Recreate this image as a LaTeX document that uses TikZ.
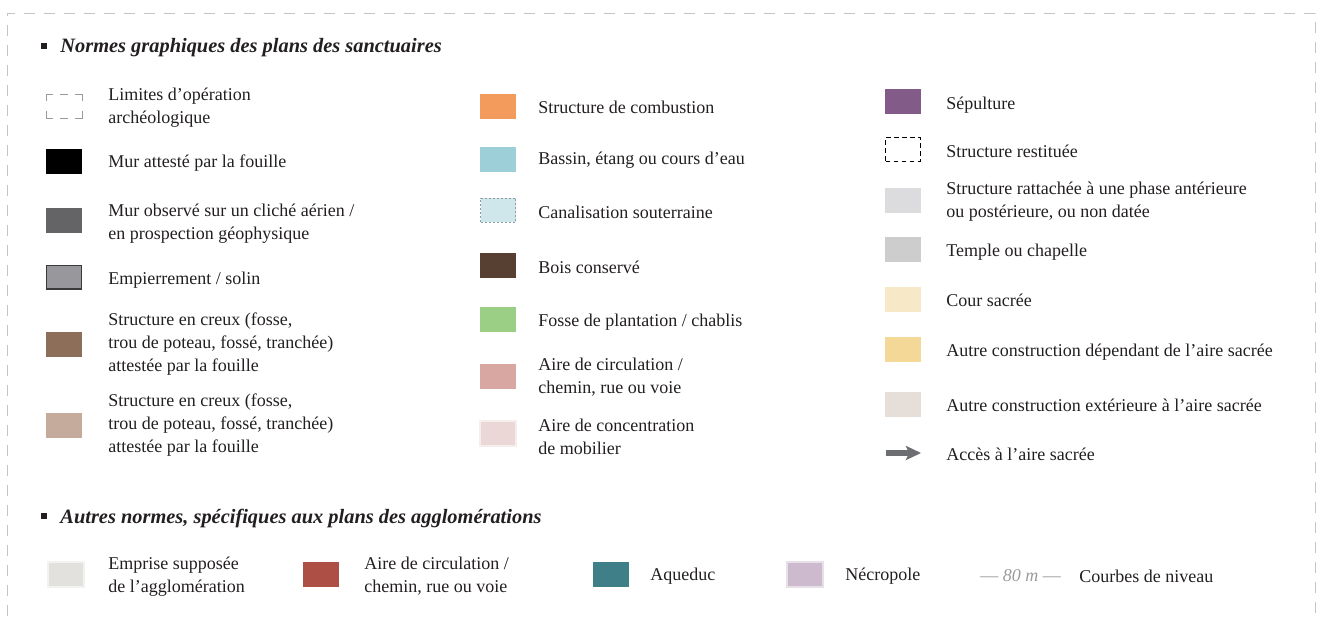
\documentclass[tikz,border=0pt]{standalone}
\usepackage{fontspec}
\setmainfont{Liberation Serif}
\usetikzlibrary{arrows.meta}
\definecolor{txt}{HTML}{231F20}
\definecolor{bordc}{HTML}{C4C4C4}
\definecolor{cMurObs}{HTML}{646466}
\definecolor{cEmp}{HTML}{98989C}
\definecolor{cEmpB}{HTML}{3A3A3A}
\definecolor{cCreuxA}{HTML}{8D6E58}
\definecolor{cCreuxB}{HTML}{C4AB9B}
\definecolor{cComb}{HTML}{F29B5C}
\definecolor{cBassin}{HTML}{9CCFD8}
\definecolor{cCanal}{HTML}{CFE6EB}
\definecolor{cCanalB}{HTML}{8A9EA5}
\definecolor{cBois}{HTML}{574032}
\definecolor{cFosse}{HTML}{9BCF86}
\definecolor{cCirc}{HTML}{D8A7A1}
\definecolor{cConc}{HTML}{EBD8D6}
\definecolor{cSep}{HTML}{835B88}
\definecolor{cRatt}{HTML}{DCDCDE}
\definecolor{cTemple}{HTML}{CDCDCE}
\definecolor{cCour}{HTML}{F7E8C7}
\definecolor{cDep}{HTML}{F3D897}
\definecolor{cExt}{HTML}{E6DED8}
\definecolor{cAcc}{HTML}{6D6E71}
\definecolor{cEmpr}{HTML}{E2E1DE}
\definecolor{cRed}{HTML}{AE4F46}
\definecolor{cAqu}{HTML}{3E7F88}
\definecolor{cNecro}{HTML}{CDBACF}
\definecolor{cLim}{HTML}{9A9A9A}
\definecolor{cCourbe}{HTML}{9B9B9B}
\begin{document}
\begin{tikzpicture}[x=0.5pt,y=-0.5pt,
  swatch/.style={minimum width=18pt,minimum height=12.5pt,inner sep=0pt,outer sep=0pt,draw=none},
  blurry/.style={swatch,fill=#1,draw=#1!45!white,line width=1pt},
  lbl/.style={anchor=west,inner sep=0pt,align=left,yshift=-1pt,font=\fontsize{9}{11.5}\selectfont,text=txt},
  head/.style={anchor=west,inner sep=0pt,yshift=-1pt,font=\fontsize{10.2}{12}\selectfont\bfseries\itshape,text=txt},
  bulletsq/.style={minimum size=2.6pt,inner sep=0pt,fill=txt},
  border/.style={draw=bordc,line width=0.5pt,dash pattern=on 5.5pt off 4.5pt},
  limline/.style={draw=cLim,line width=0.5pt},
  accarrow/.style={draw=cAcc,line width=2.6pt,-{Stealth[length=7.5pt,width=7pt,inset=1.5pt]}}
]
\useasboundingbox (0,0) rectangle (1323,616);
\draw[border] (7,616) -- (7,13) -- (1315,13) -- (1315,616);

% headings
\node[bulletsq] (b1) at (44,46) {};
\node[head] (h1) at (60,46) {Normes graphiques des plans des sanctuaires};
\node[bulletsq] (b2) at (44,516) {};
\node[head] (h2) at (60,516) {Autres normes, spécifiques aux plans des agglomérations};

% column 1
\draw[limline] (46,101) -- (46,94) -- (53,94);
\draw[limline] (60,94) -- (68,94);
\draw[limline] (75,94) -- (82,94) -- (82,101);
\draw[limline] (46,111) -- (46,118) -- (53,118);
\draw[limline] (60,118) -- (68,118);
\draw[limline] (75,118) -- (82,118) -- (82,111);
\node[lbl] (t11) at (108,106) {Limites d’opération\\archéologique};

\node[swatch,fill=black] (s12) at (64,161) {};
\node[lbl] (t12) at (108,161) {Mur attesté par la fouille};

\node[swatch,fill=cMurObs] (s13) at (64,220) {};
\node[lbl] (t13) at (108,221.5) {Mur observé sur un cliché aérien /\\en prospection géophysique};

\node[swatch,fill=cEmp,draw=cEmpB,line width=0.6pt,minimum width=17.4pt,minimum height=11.9pt] (s14) at (64,277) {};
\node[lbl] (t14) at (108,278) {Empierrement / solin};

\node[swatch,fill=cCreuxA] (s15) at (64,344) {};
\node[lbl] (t15) at (108,342) {Structure en creux (fosse,\\trou de poteau, fossé, tranchée)\\attestée par la fouille};

\node[swatch,fill=cCreuxB] (s16) at (64,425) {};
\node[lbl] (t16) at (108,423) {Structure en creux (fosse,\\trou de poteau, fossé, tranchée)\\attestée par la fouille};

% column 2
\node[swatch,fill=cComb] (s21) at (498,106.5) {};
\node[lbl] (t21) at (538,105.5) {Structure de combustion};

\node[swatch,fill=cBassin] (s22) at (498,159.5) {};
\node[lbl] (t22) at (538,158.5) {Bassin, étang ou cours d’eau};

\node[swatch,fill=cCanal,draw=cCanalB,line width=0.5pt,dash pattern=on 1pt off 1pt,minimum width=17.5pt,minimum height=12pt] (s23) at (498,210) {};
\node[lbl] (t23) at (538,210) {Canalisation souterraine};

\node[swatch,fill=cBois] (s24) at (498,265.5) {};
\node[lbl] (t24) at (538,265.5) {Bois conservé};

\node[swatch,fill=cFosse] (s25) at (498,319.5) {};
\node[lbl] (t25) at (538,320) {Fosse de plantation / chablis};

\node[swatch,fill=cCirc] (s26) at (498,376.5) {};
\node[lbl] (t26) at (538,375.5) {Aire de circulation /\\chemin, rue ou voie};

\node[blurry=cConc] (s27) at (498,433.5) {};
\node[lbl] (t27) at (538,435) {Aire de concentration\\de mobilier};

% column 3
\node[swatch,fill=cSep] (s31) at (903,101.5) {};
\node[lbl] (t31) at (946,103) {Sépulture};

\node[swatch,fill=white,draw=black,line width=0.6pt,dash pattern=on 2.4pt off 1.6pt,minimum width=17.4pt,minimum height=11.9pt] (s32) at (903,149.5) {};
\node[lbl] (t32) at (946,149.5) {Structure restituée};

\node[swatch,fill=cRatt] (s33) at (903,200.5) {};
\node[lbl] (t33) at (946,199.5) {Structure rattachée à une phase antérieure\\ou postérieure, ou non datée};

\node[swatch,fill=cTemple] (s34) at (903,249.5) {};
\node[lbl] (t34) at (946,250) {Temple ou chapelle};

\node[swatch,fill=cCour] (s35) at (903,299.5) {};
\node[lbl] (t35) at (946,298.5) {Cour sacrée};

\node[swatch,fill=cDep] (s36) at (903,349.5) {};
\node[lbl] (t36) at (946,350) {Autre construction dépendant de l’aire sacrée};

\node[swatch,fill=cExt] (s37) at (903,404.5) {};
\node[lbl] (t37) at (946,403.5) {Autre construction extérieure à l’aire sacrée};

\coordinate (acc0) at (886,453);
\coordinate (acc1) at (921,453);
\draw[accarrow] (acc0) -- (acc1);
\node[lbl] (t38) at (946,452.5) {Accès à l’aire sacrée};

% bottom row
\node[blurry=cEmpr] (s41) at (65.5,574.5) {};
\node[lbl] (t41) at (108,574.5) {Emprise supposée\\de l’agglomération};

\node[swatch,fill=cRed] (s42) at (321,574.5) {};
\node[lbl] (t42) at (364,574.5) {Aire de circulation /\\chemin, rue ou voie};

\node[swatch,fill=cAqu] (s43) at (610.5,574.5) {};
\node[lbl] (t43) at (650,574.5) {Aqueduc};

\node[blurry=cNecro] (s44) at (804.5,574.5) {};
\node[lbl] (t44) at (845,574.5) {Nécropole};

\node[lbl,text=cCourbe] (s45) at (980,574) {— \textit{80 m} —};
\node[lbl] (t45) at (1079,574.5) {Courbes de niveau};
\end{tikzpicture}
\end{document}
